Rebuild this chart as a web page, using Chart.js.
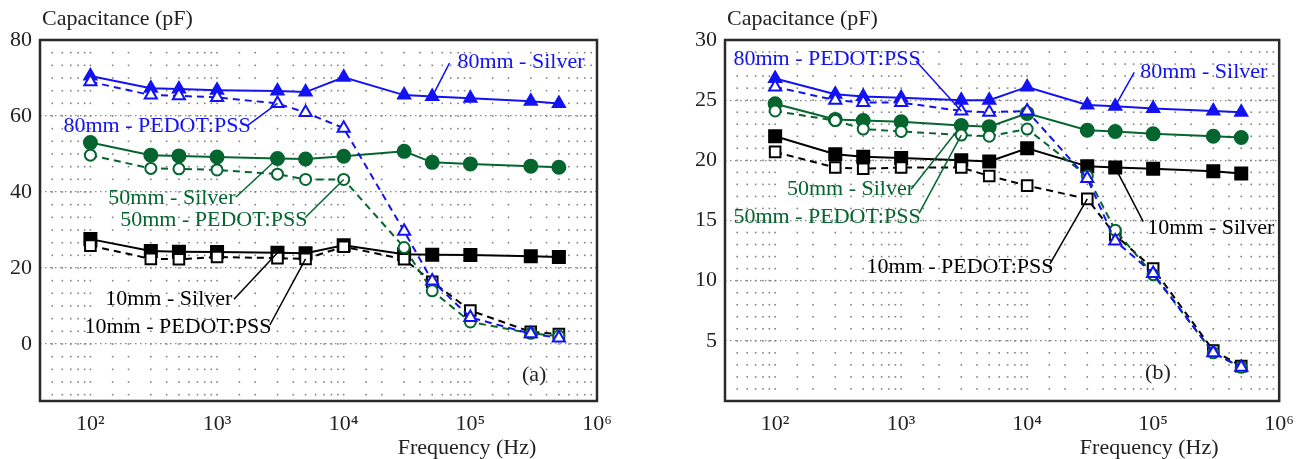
<!DOCTYPE html>
<html>
<head>
<meta charset="utf-8">
<script src="https://cdn.jsdelivr.net/npm/chart.js@4.4.0/dist/chart.umd.min.js"></script>
<style>
  body { margin: 0; background: #fff; }
  canvas { position: absolute; top: 0; }
</style>
</head>
<body>
<canvas id="chartA" width="652" height="459" style="left:0"></canvas>
<canvas id="chartB" width="652" height="459" style="left:652px"></canvas>
<script>
// frequencies (Hz) shared by every curve
const frequencies = [100, 300, 500, 1000, 3000, 5000, 10000, 30000, 50000, 100000, 300000, 500000];

// panel (a)
const silver80A = [70.5, 67.3, 67.1, 66.8, 66.6, 66.3, 70.2, 65.5, 65.1, 64.7, 63.9, 63.3];
const pedot80A  = [69.0, 65.5, 65.3, 64.9, 63.3, 60.9, 56.8, 29.7, 16.6, 7.0, 2.7, 1.6];
const silver50A = [53.0, 49.7, 49.5, 49.2, 48.8, 48.7, 49.4, 50.7, 47.8, 47.4, 46.8, 46.5];
const pedot50A  = [49.7, 46.2, 46.1, 45.8, 44.7, 43.3, 43.3, 25.4, 14.0, 5.8, 2.8, 2.1];
const silver10A = [27.6, 24.5, 24.3, 24.2, 24.0, 23.9, 26.0, 23.6, 23.5, 23.4, 23.1, 22.9];
const pedot10A  = [25.9, 22.4, 22.3, 22.9, 22.6, 22.4, 25.6, 22.3, 16.4, 8.8, 3.2, 2.6];

// panel (b)
const silver80B = [26.8, 25.5, 25.3, 25.2, 25.0, 25.0, 26.1, 24.6, 24.5, 24.3, 24.1, 24.0];
const pedot80B  = [26.1, 25.0, 24.8, 24.8, 24.1, 24.0, 24.1, 18.5, 13.3, 10.6, 4.0, 2.8];
const silver50B = [24.7, 23.4, 23.3, 23.2, 22.9, 22.8, 23.9, 22.5, 22.4, 22.2, 22.0, 21.9];
const pedot50B  = [24.1, 23.3, 22.6, 22.4, 22.1, 22.0, 22.6, 18.7, 14.2, 10.5, 4.0, 2.8];
const silver10B = [22.0, 20.5, 20.3, 20.2, 20.0, 19.9, 21.0, 19.5, 19.4, 19.3, 19.1, 18.9];
const pedot10B  = [20.7, 19.4, 19.3, 19.4, 19.4, 18.7, 17.9, 16.8, 13.8, 11.0, 4.2, 2.9];

// tick labels
const yTicksA = [0, 20, 40, 60, 80];
const yTicksB = [5, 10, 15, 20, 25, 30];
const xMajor = [100, 1000, 10000, 100000, 1000000];

const FONT = '"Liberation Serif", "Times New Roman", serif';
const BLUE = '#1212f2';
const GREEN = '#05652f';
const BLACK = '#000000';
const SUP = {2: '\u00b2', 3: '\u00b3', 4: '\u2074', 5: '\u2075', 6: '\u2076'};

const curve = (label, values, color, shape, hollow) => ({
  label: label,
  data: values.map((v, i) => ({x: frequencies[i], y: v})),
  borderColor: color,
  backgroundColor: color,
  borderWidth: 2,
  borderDash: hollow ? [7, 5] : [],
  pointStyle: shape,
  pointRadius: shape == 'rect' ? (hollow ? 7.5 : 8.5) : (shape == 'triangle' ? 7 : (hollow ? 5.5 : 6.5)),
  pointBackgroundColor: hollow ? '#ffffff' : color,
  pointBorderColor: color,
  pointBorderWidth: 2,
  tension: 0,
  fill: false
});

// dotted lattice, frame, titles and leader-line labels
const decor = {
  id: 'decor',
  beforeDatasetsDraw(chart, args, o) {
    const {ctx, chartArea: a, scales: {x, y}} = chart;
    ctx.save();
    ctx.fillStyle = '#808080';
    const cols = x.ticks.map(t => x.getPixelForValue(t.value)).filter(p => p > a.left + 3 && p < a.right - 3);
    const k0 = Math.ceil(y.min / o.minor - 1e-6), k1 = Math.floor(y.max / o.minor + 1e-6);
    for (let k = k0; k <= k1; k++) {
      const py = y.getPixelForValue(k * o.minor);
      if (py < a.top + 3 || py > a.bottom - 3) continue;
      cols.forEach(px => ctx.fillRect(px - 0.8, py - 0.8, 1.6, 1.6));
    }
    ctx.restore();
  },
  afterDatasetsDraw(chart, args, o) {
    const {ctx, chartArea: a, scales: {x, y}} = chart;
    ctx.save();
    ctx.strokeStyle = '#2a2a2a';
    ctx.lineWidth = 2.5;
    ctx.strokeRect(a.left, a.top, a.right - a.left, a.bottom - a.top);

    ctx.font = '22px ' + FONT;
    ctx.textBaseline = 'middle';
    ctx.fillStyle = '#222';
    ctx.textAlign = 'left';
    ctx.fillText('Capacitance (pF)', a.left + 2, 19);
    ctx.textAlign = 'center';
    ctx.fillText('Frequency (Hz)', a.right - 130, 448);
    ctx.fillText(o.tag, x.getPixelForValue(o.tagAt[0]), y.getPixelForValue(o.tagAt[1]));

    ctx.textAlign = 'left';
    ctx.lineWidth = 1.5;
    o.notes.forEach(n => {
      ctx.strokeStyle = n.color;
      ctx.fillStyle = n.color;
      ctx.beginPath();
      ctx.moveTo(x.getPixelForValue(n.from[0]), y.getPixelForValue(n.from[1]));
      ctx.lineTo(x.getPixelForValue(frequencies[n.to[1]]), y.getPixelForValue(n.to[0][n.to[1]]));
      ctx.stroke();
      ctx.fillText(n.text, x.getPixelForValue(n.at[0]), y.getPixelForValue(n.at[1]));
    });
    ctx.restore();
  }
};

const makePanel = (canvas, p) => new Chart(canvas.getContext('2d'), {
  type: 'line',
  data: {datasets: p.datasets},
  options: {
    responsive: false,
    animation: false,
    layout: {padding: {top: 40, right: p.padRight, left: 0, bottom: 0}},
    plugins: {
      legend: {display: false},
      tooltip: {enabled: false},
      decor: {minor: p.minor, notes: p.notes, tag: p.tag, tagAt: p.tagAt}
    },
    scales: {
      x: {
        type: 'logarithmic', min: 40, max: 1000000,
        grid: {display: false, drawTicks: false},
        border: {display: false},
        ticks: {
          autoSkip: false, maxRotation: 0, padding: 10, color: '#222',
          font: {family: FONT, size: 22},
          callback: v => {
            const e = Math.round(Math.log10(v));
            return xMajor.includes(v) ? '10' + SUP[e] : '';
          }
        },
        afterFit: s => { s.height = 58; }
      },
      y: {
        min: p.yMin, max: p.yMax,
        afterBuildTicks: s => { s.ticks = p.yTicks.map(v => ({value: v})); },
        grid: {color: '#8a8a8a', lineWidth: 1.2, drawTicks: false},
        border: {display: false, dash: [1.5, 3.5]},
        ticks: {padding: 8, color: '#222', font: {family: FONT, size: 22}},
        afterFit: s => { s.width = p.yWidth; }
      }
    }
  },
  plugins: [decor]
});

// Chart.js paints dataset 0 last, so the blue curves go first to sit on top
makePanel(document.getElementById('chartA'), {
  datasets: [
    curve('80mm - PEDOT:PSS', pedot80A, BLUE, 'triangle', true),
    curve('80mm - Silver', silver80A, BLUE, 'triangle', false),
    curve('50mm - PEDOT:PSS', pedot50A, GREEN, 'circle', true),
    curve('50mm - Silver', silver50A, GREEN, 'circle', false),
    curve('10mm - PEDOT:PSS', pedot10A, BLACK, 'rect', true),
    curve('10mm - Silver', silver10A, BLACK, 'rect', false)
  ],
  yMin: -15, yMax: 80, yTicks: yTicksA, minor: 20 / 6,
  yWidth: 40, padRight: 55,
  tag: '(a)', tagAt: [319000, -8.2],
  notes: [
    {text: '80mm - Silver', color: BLUE, at: [79000, 74.2], from: [68400, 73.9], to: [silver80A, 8]},
    {text: '80mm - PEDOT:PSS', color: BLUE, at: [61.3, 57.4], from: [1754, 57.6], to: [pedot80A, 4]},
    {text: '50mm - Silver', color: GREEN, at: [138.6, 38.4], from: [1413, 38.7], to: [silver50A, 4]},
    {text: '50mm - PEDOT:PSS', color: GREEN, at: [172, 32.6], from: [5020, 33.4], to: [pedot50A, 6]},
    {text: '10mm - Silver', color: BLACK, at: [131, 11.8], from: [1361, 11.8], to: [silver10A, 4]},
    {text: '10mm - PEDOT:PSS', color: BLACK, at: [89.7, 4.5], from: [2612, 5.0], to: [pedot10A, 5]}
  ]
});

makePanel(document.getElementById('chartB'), {
  datasets: [
    curve('80mm - PEDOT:PSS', pedot80B, BLUE, 'triangle', true),
    curve('80mm - Silver', silver80B, BLUE, 'triangle', false),
    curve('50mm - PEDOT:PSS', pedot50B, GREEN, 'circle', true),
    curve('50mm - Silver', silver50B, GREEN, 'circle', false),
    curve('10mm - PEDOT:PSS', pedot10B, BLACK, 'rect', true),
    curve('10mm - Silver', silver10B, BLACK, 'rect', false)
  ],
  yMin: 0, yMax: 30, yTicks: yTicksB, minor: 1,
  yWidth: 73, padRight: 22,
  tag: '(b)', tagAt: [109000, 2.3],
  notes: [
    {text: '80mm - PEDOT:PSS', color: BLUE, at: [46.7, 28.4], from: [1312, 28.25], to: [pedot80B, 4]},
    {text: '80mm - Silver', color: BLUE, at: [79000, 27.3], from: [70800, 27.3], to: [silver80B, 8]},
    {text: '50mm - Silver', color: GREEN, at: [124, 17.6], from: [1199, 17.6], to: [silver50B, 4]},
    {text: '50mm - PEDOT:PSS', color: GREEN, at: [46.7, 15.3], from: [1387, 15.6], to: [pedot50B, 4]},
    {text: '10mm - Silver', color: BLACK, at: [89700, 14.4], from: [83400, 14.9], to: [silver10B, 8]},
    {text: '10mm - PEDOT:PSS', color: BLACK, at: [530, 11.1], from: [15170, 11.4], to: [pedot10B, 7]}
  ]
});
</script>
</body>
</html>
